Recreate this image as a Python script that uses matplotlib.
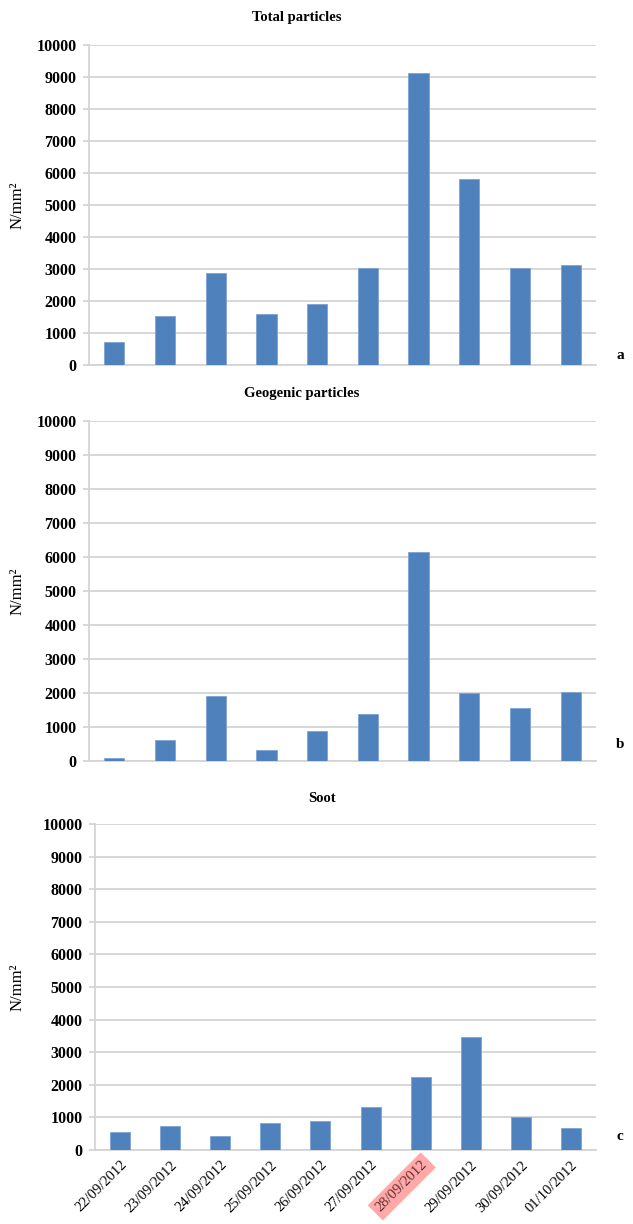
import matplotlib.pyplot as plt
import numpy as np

dates = ["22/09/2012", "23/09/2012", "24/09/2012", "25/09/2012", "26/09/2012",
         "27/09/2012", "28/09/2012", "29/09/2012", "30/09/2012", "01/10/2012"]
total = [720, 1540, 2865, 1595, 1905, 3020, 9115, 5815, 3040, 3115]
geogenic = [90, 620, 1920, 325, 890, 1375, 6155, 2010, 1570, 2040]
soot = [540, 745, 435, 815, 895, 1325, 2225, 3455, 1000, 685]
titles = ["Total particles", "Geogenic particles", "Soot"]
panel_tags = ["a", "b", "c"]
highlight_day = "28/09/2012"

BAR_COLOR = "#4f81bd"
GRID_COLOR = "#d4d4d4"
SERIF = ["Liberation Serif", "DejaVu Serif"]

plt.rcParams["font.family"] = SERIF

W, H = 633, 1224
fig = plt.figure(figsize=(W / 100, H / 100), dpi=100)

# axes boxes in pixels: left, right, top, bottom
boxes = [(89, 596, 45, 365), (89, 596, 421, 761), (95, 596, 824, 1150)]
title_pos = [(297, 18), (302, 393), (322, 798)]
tag_y = [355, 745, 1137]

x = np.arange(len(dates))
for i, vals in enumerate([total, geogenic, soot]):
    l, r, t, b = boxes[i]
    ax = fig.add_axes([l / W, 1 - b / H, (r - l) / W, (b - t) / H])
    ax.bar(x, vals, width=0.4, color=BAR_COLOR, edgecolor="#7fa3d3", linewidth=0.6, zorder=3)
    ax.set_xlim(-0.5, len(dates) - 0.5)
    ax.set_ylim(0, 10000)
    ax.set_yticks(np.arange(0, 10001, 1000))
    ax.yaxis.grid(True, color=GRID_COLOR, linewidth=1.3, zorder=0)
    for s in ["top", "right"]:
        ax.spines[s].set_visible(False)
    for s in ["left", "bottom"]:
        ax.spines[s].set_color(GRID_COLOR)
        ax.spines[s].set_linewidth(1.3)
    ax.tick_params(axis="y", length=4, color=GRID_COLOR, width=1.3, pad=5)
    for lab in ax.get_yticklabels():
        lab.set_fontweight("bold")
        lab.set_fontsize(11.5)
    ax.set_ylabel("N/mm²", fontsize=12)
    ax.yaxis.set_label_coords((26 - l) / (r - l), 0.5)

    if i < 2:
        ax.set_xticks([])
    else:
        ax.set_xticks(x)
        ax.set_xticklabels(dates, rotation=45, ha="right", rotation_mode="anchor", fontsize=10.5)
        ax.tick_params(axis="x", length=0, pad=6)
        for lab in ax.get_xticklabels():
            if lab.get_text() == highlight_day:
                lab.set_color("#6b2b2b")
                lab.set_bbox(dict(facecolor="#ffaaaa", edgecolor="none", pad=3))

    tx, ty = title_pos[i]
    fig.text(tx / W, 1 - ty / H, titles[i], ha="center", va="center",
             fontsize=10.5, fontweight="bold")
    fig.text(620 / W, 1 - tag_y[i] / H, panel_tags[i], ha="center", va="center",
             fontsize=11, fontweight="bold")

fig.savefig("out.png", dpi=100)
